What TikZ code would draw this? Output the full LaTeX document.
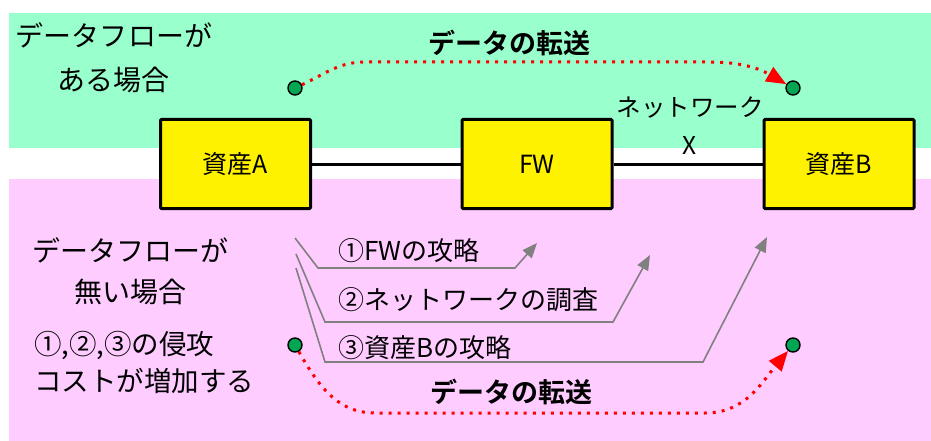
\documentclass[tikz,border=0pt]{standalone}
\usepackage{fontspec}
\setmainfont{Noto Sans CJK JP}[BoldFont={Noto Sans CJK JP Bold}]
\usetikzlibrary{arrows.meta}

\definecolor{bandgreen}{RGB}{153,255,204}
\definecolor{bandpink}{RGB}{255,204,255}
\definecolor{dotgreen}{RGB}{0,166,81}
\definecolor{linegray}{RGB}{128,128,128}

\begin{document}
\begin{tikzpicture}[x=1pt, y=-1pt,
		asset/.style={rectangle, draw=black, line width=3pt, fill=yellow, rounded corners=1pt, minimum width=150pt, minimum height=89pt, font=\fontsize{25pt}{28pt}\selectfont},
		point/.style={circle, draw=black, line width=1.4pt, fill=dotgreen, minimum size=14pt, inner sep=0pt},
		transfer/.style={red, line width=3pt, dash pattern=on 3pt off 6pt, -{Triangle[length=20pt,width=16pt]}},
		attack/.style={linegray, line width=1.6pt, -{Triangle[length=15pt,width=12pt]}},
		note/.style={inner sep=0pt, align=center, font=\fontsize{28pt}{44pt}\selectfont},
		sendlabel/.style={font=\bfseries\fontsize{27pt}{30pt}\selectfont}
		]
		\useasboundingbox (0,0) rectangle (931,441);
		
		% backgrounds
		\fill[bandgreen] (9,13) rectangle (931,148);
		\fill[bandpink] (9,179) rectangle (931,441);
		
		\node[note] (withflow) at (114,58) {データフローが\\ある場合};
		\node[note, font=\fontsize{28pt}{41pt}\selectfont] (noflow) at (130,271) {データフローが\\無い場合};
		\node[note, anchor=west, align=left, font=\fontsize{27.5pt}{37pt}\selectfont] (cost) at (34,362) {①,②,③の侵攻\\コストが増加する};
		
		\node[asset] (assetA) at (235.5,164) {資産A};
		\node[asset] (fw) at (537,164) {FW};
		\node[asset] (assetB) at (839,164) {資産B};
		
		\draw[line width=3pt] (assetA.east) -- (fw.west);
		\draw[line width=3pt] (fw.east) -- (assetB.west);
		
		\node[inner sep=0pt, align=center, font=\fontsize{24.5pt}{38pt}\selectfont] (net) at (690,126) {ネットワーク\\X};
		
		\node[point] (srcTop) at (295,88) {};
		\node[point] (dstTop) at (793,88) {};
		\node[point] (srcBot) at (295,345) {};
		\node[point] (dstBot) at (793,345) {};
		
		\draw[transfer] (srcTop) to[out=25, in=180] (365,62) -- (710,62) to[out=0, in=150] (dstTop);
		\draw[transfer] (srcBot) to[out=-60, in=180] (375,413) -- (705,413) to[out=0, in=-130] (dstBot);
		
		\node[sendlabel] (sendTop) at (509,43) {データの転送};
		\node[sendlabel] (sendBot) at (511,392) {データの転送};
		
		% attack paths
		\coordinate (s1) at (295,238);
		\coordinate (s2) at (296,254);
		\coordinate (s3) at (296,268);
		\coordinate (t1) at (537,243);
		\coordinate (t2) at (650,255);
		\coordinate (t3) at (767,237);
		\draw[attack] (s1) -- (318,268) -- (515,268) -- (t1);
		\draw[attack] (s2) -- (325,322) -- (613,322) -- (t2);
		\draw[attack] (s3) -- (325,362) -- (703,362) -- (t3);
		
		\foreach \y/\txt in {251/①FWの攻略, 300/②ネットワークの調査, 348/③資産Bの攻略}
			\node[anchor=west, inner sep=0pt, font=\fontsize{26pt}{30pt}\selectfont] at (338,\y) {\txt};
		
	\end{tikzpicture}
\end{document}
